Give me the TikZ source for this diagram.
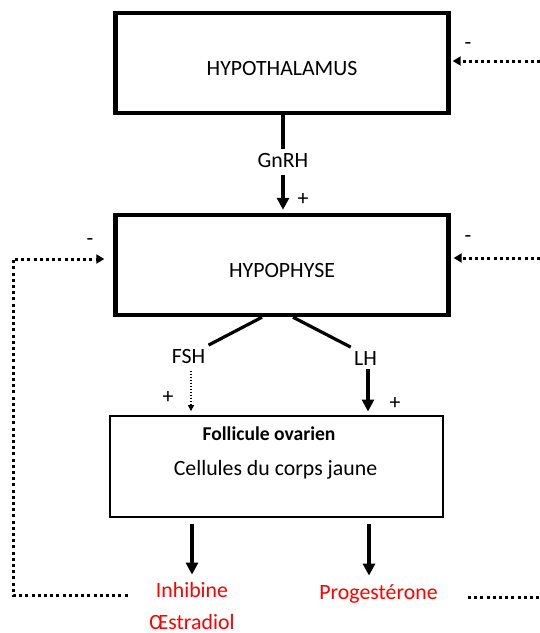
\documentclass[tikz,border=0pt]{standalone}
\usepackage{fontspec}
\setmainfont{Carlito}
\usetikzlibrary{arrows.meta}
\usetikzlibrary{positioning}

\newcommand{\taille}{\fontsize{10.9}{13}\selectfont}

\begin{document}
\begin{tikzpicture}[x=0.5pt, y=-0.5pt, font=\taille,
    boite/.style={draw, line width=2.2pt, inner sep=0pt, text height=12pt, text depth=0pt,
      minimum width=166.5pt, minimum height=50pt},
    hormone/.style={text height=7.5pt, text depth=2pt, inner sep=1.5pt},
    signe/.style={inner sep=0pt},
    trait/.style={line width=1.6pt},
    fleche/.style={-{Triangle[width=6pt,length=6pt]}, line width=1.6pt},
    retro/.style={line width=1.5pt, dash pattern=on 1.5pt off 1.6pt},
    retroarrow/.style={retro, -{Triangle[width=4.5pt,length=4pt]}}]
    \useasboundingbox (0,0) rectangle (540,633);

    \node (hypothal) [boite] at (282,63) {HYPOTHALAMUS};
    \node (hypophyse) [boite] at (282,265) {HYPOPHYSE};
    \node (follicule) [draw, line width=0.9pt, minimum width=166.5pt, minimum height=50.5pt] at (276.5,466.5) {};
    \node (folltitre) [hormone, below = 3.5pt of follicule.north, xshift=-3.75pt, font=\fontsize{9.8}{12}\selectfont\bfseries] {Follicule ovarien};
    \node (folltexte) [hormone, below = 4.5pt of folltitre, xshift=3.25pt] {Cellules du corps jaune};

    \node (gnrh) [hormone] at (283,162) {GnRH};
    \node (fsh) [hormone] at (188.5,358) {FSH};
    \node (lh) [hormone] at (365.5,360) {LH};
    \node (inhibine) [hormone, red] at (192,592) {Inhibine};
    \node (oestradiol) [hormone, red, below = 3pt of inhibine] {Œstradiol};
    \node (progesterone) [hormone, red] at (378.5,594) {Progestérone};

    \node (plusgnrh) [signe] at (303,200) {+};
    \node (plusfsh) [signe] at (168,398) {+};
    \node (pluslh) [signe] at (395,404) {+};
    \node (moinshaut) [signe] at (468,46) {-};
    \node (moinsdroite) [signe] at (468,239) {-};
    \node (moinsgauche) [signe] at (90,242) {-};

    \coordinate (retrohaut) at (540,61);
    \coordinate (retrodroite) at (540,258);
    \coordinate (coinhaut) at (13,259);
    \coordinate (coinbas) at (13,595);
    \coordinate (retrofin) at (540,597);

    \draw [trait] (hypothal.south -| gnrh) -- (gnrh.north);
    \draw [fleche, shorten >=1.5pt] (gnrh.south) -- (gnrh.south |- hypophyse.north);

    \draw [trait] ([xshift=-10pt]hypophyse.south) -- (fsh.north east);
    \draw [trait] ([xshift=5.5pt]hypophyse.south) -- (lh.north west);
    \draw [-{Triangle[width=3pt,length=3pt]}, line width=0.6pt, dash pattern=on 0.6pt off 0.9pt, shorten >=2pt]
        ([xshift=1.25pt]fsh.south) -- ([xshift=1.25pt]fsh.south |- follicule.north);
    \draw [fleche, shorten <=-2pt, shorten >=1.8pt] ([xshift=1.25pt]lh.south) -- ([xshift=1.25pt]lh.south |- follicule.north);

    \draw [fleche, shorten <=3pt, shorten >=2.25pt] (follicule.south -| inhibine) -- (inhibine.north);
    \draw [fleche, shorten <=3pt, shorten >=2.75pt] ([xshift=-4.75pt]progesterone.north |- follicule.south) -- ([xshift=-4.75pt]progesterone.north);

    \draw [retroarrow, shorten >=1pt] (retrohaut) -- (hypothal.east |- retrohaut);
    \draw [retroarrow, shorten >=1.5pt] (retrodroite) -- (hypophyse.east |- retrodroite);
    \draw [retroarrow, shorten <=12.5pt, shorten >=4.5pt] (inhibine.west |- coinbas) -- (coinbas) -- (coinhaut) -- (hypophyse.west |- coinhaut);
    \draw [retro, shorten <=13.5pt] (progesterone.east |- retrofin) -- (retrofin);
\end{tikzpicture}
\end{document}
